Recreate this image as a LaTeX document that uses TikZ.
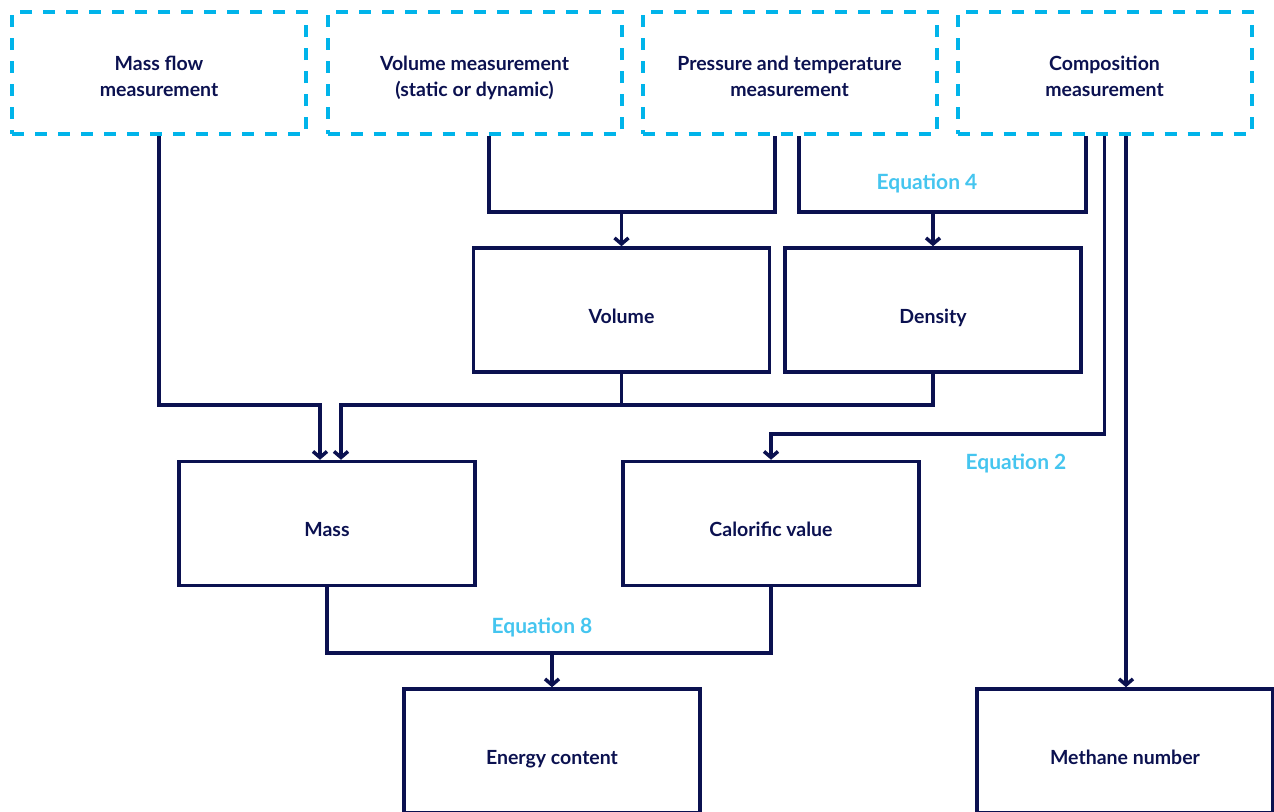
\documentclass[tikz,border=0pt]{standalone}
\usepackage{fontspec}
\setmainfont{Lato}
\usetikzlibrary{arrows.meta}
\definecolor{navy}{HTML}{0B1150}
\definecolor{cyanb}{HTML}{00B4EA}
\definecolor{eqc}{HTML}{45C5EF}
\tikzset{
  txt/.style={font=\bfseries\fontsize{19.5}{26}\selectfont, text=navy, align=center},
  meas/.style={txt, draw=cyanb, line width=4pt, dash pattern=on 12pt off 11pt,
    minimum width=294pt, minimum height=122pt, inner sep=0pt, text height=46pt, text depth=0pt},
  outbox/.style={txt, draw=navy, line width=3.5pt, minimum width=296pt,
    minimum height=124pt, inner sep=0pt, text height=26pt, text depth=0pt},
  conn/.style={draw=navy, line width=3.5pt},
  arr/.style={conn, -{Straight Barb[length=6pt,width=14pt,line width=3.5pt]}},
  eqlab/.style={font=\bfseries\fontsize{21}{24}\selectfont, text=eqc}
}
\begin{document}
\begin{tikzpicture}[x=1pt,y=-1pt]
\useasboundingbox (0,0) rectangle (1274,811);
% measurement boxes
\node[meas] (m1) at (159,73) {Mass flow\\measurement};
\node[meas] (m2) at (474.5,73) {Volume measurement\\(static or dynamic)};
\node[meas] (m3) at (789.5,73) {Pressure and temperature\\measurement};
\node[meas] (m4) at (1104.5,73) {Composition\\measurement};
% result boxes
\node[outbox] (vol) at (621.5,310) {Volume};
\node[outbox] (den) at (933,310) {Density};
\node[outbox] (mass) at (327,523.5) {Mass};
\node[outbox] (cal) at (771,523.5) {Calorific value};
\node[outbox] (en) at (552,751) {Energy content};
\node[outbox] (meth) at (1125,751) {Methane number};
% labels
\node[eqlab] (eq4) at (927,183) {Equation 4};
\node[eqlab] (eq2) at (1016,463) {Equation 2};
\node[eqlab] (eq8) at (542,627) {Equation 8};
% levels and ports
\coordinate (l212) at (0,212);
\coordinate (l405) at (0,405);
\coordinate (l434) at (0,434);
\coordinate (l653) at (0,653);
\coordinate (p2) at ([xshift=14.5pt]m2.south);
\coordinate (p3a) at ([xshift=-14.5pt]m3.south);
\coordinate (p3b) at ([xshift=9.5pt]m3.south);
\coordinate (p4a) at ([xshift=-18.5pt]m4.south);
\coordinate (p4c) at ([xshift=21.5pt]m4.south);
\coordinate (ma1) at ([xshift=-7pt]mass.north);
\coordinate (ma2) at ([xshift=14pt]mass.north);
% connectors
\draw[arr] (m1.south) -- (m1.south |- l405) -- (ma1 |- l405) -- (ma1);
\draw[conn] (p2) -- (p2 |- l212) -- (p3a |- l212) -- (p3a);
\draw[arr] (vol.north |- l212) -- (vol.north);
\draw[conn] (p3b) -- (p3b |- l212) -- (p4a |- l212) -- (p4a);
\draw[arr] (den.north |- l212) -- (den.north);
\draw[conn] (vol.south) -- (vol.south |- l405);
\draw[arr] (den.south) -- (den.south |- l405) -- (ma2 |- l405) -- (ma2);
\draw[arr] (m4.south) -- (m4.south |- l434) -- (cal.north |- l434) -- (cal.north);
\draw[arr] (p4c) -- (p4c |- meth.north);
\draw[conn] (mass.south) -- (mass.south |- l653) -- (cal.south |- l653) -- (cal.south);
\draw[arr] (en.north |- l653) -- (en.north);
\end{tikzpicture}
\end{document}
